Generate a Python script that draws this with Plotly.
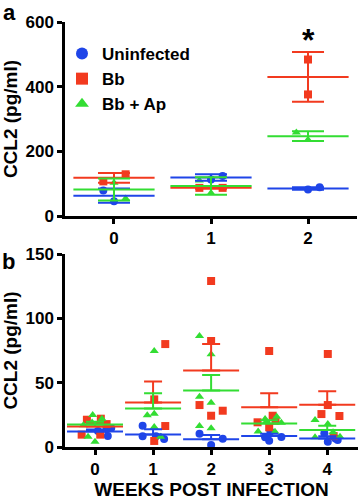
import plotly.graph_objects as go

# ---------------- DATA ----------------
groups = ["Uninfected", "Bb", "Bb + Ap"]
colors = ["#1f45e8", "#f23a1f", "#33dd33"]
symbols = ["circle", "square", "triangle-up"]

# Panel a
a_weeks = [0, 1, 2]
a_tick_labels = ["0", "1", "2"]
a_uninf = [[79, 46], [113, 124], [82, 89]]
a_bb = [[107, 129], [87, 87], [484, 376]]
a_bbap = [[103, 54], [110, 71], [258, 236]]
a_uninf_jit = [[-0.11, 0.0], [0.0, 0.12], [0.0, 0.12]]
a_bb_jit = [[-0.11, 0.12], [-0.12, 0.12], [0.0, 0.0]]
a_bbap_jit = [[0.0, 0.12], [-0.12, 0.0], [-0.12, 0.0]]
a_means = [[63, 119, 85], [118, 87, 430], [82, 93, 247]]
a_err = [[22, 10, 4], [15, 3, 77], [34, 27, 15]]
a_yticks = [0, 200, 400, 600]

# Panel b
b_weeks = [0, 1, 2, 3, 4]
b_tick_labels = ["0", "1", "2", "3", "4"]
b_uninf = [[12.4, 13.8, 14.8, 8.5], [16.6, 8.3, 8.3, 6.2], [10.3, 1.6, 6.5],
           [12, 4.9, 7.8, 7.5], [10.7, 5.4, 4.1, 6.7]]
b_uninf_jit = [[0.05, 0.2, 0.28, 0.22], [-0.18, -0.18, 0.05, 0.19], [-0.2, 0.0, 0.2],
               [0.02, 0.0, 0.21, -0.07], [-0.05, 0.18, 0.01, 0.14]]
b_bb = [[21.2, 22, 17.8, 9.6, 9.6], [80, 37, 16.3, 4.7], [129, 82.4, 32.6, 24.3, 28.2],
        [74.6, 19.2, 24.3, 20.4, 15.3], [72.3, 32.6, 25.6, 24.1, 8.5]]
b_bb_jit = [[-0.14, 0.1, 0.2, -0.23, 0.09], [0.21, 0.02, 0.21, 0.02], [0.0, 0.0, -0.2, 0.0, 0.2],
            [0.0, -0.2, 0.06, 0.11, 0.0], [0.01, 0.01, -0.1, 0.21, 0.11]]
b_bbap = [[24.9, 17, 8, 4.1, 22, 19], [74.7, 24.6, 25.9, 15.5, 8],
          [86.3, 72, 39.1, 34.4, 16.3, 14.5], [23.6, 21.8, 19.7, 18.9, 12, 11.9],
          [21, 17.9, 8, 7.5, 11.5]]
b_bbap_jit = [[-0.04, -0.2, -0.12, 0.0, 0.12, -0.05], [0.02, -0.1, 0.02, 0.02, 0.13],
              [-0.2, 0.0, -0.2, 0.0, -0.2, 0.0], [0.13, -0.07, -0.05, 0.21, -0.19, 0.1],
              [-0.21, 0.01, 0.22, -0.21, 0.1]]
b_means = [[12, 9.8, 6.1, 8.5, 6.7], [16, 34.5, 59.5, 30.8, 32.8], [17.5, 30, 44, 18.3, 13.2]]
b_err = [[1.6, 3.9, 3.3, 1.8, 1.7], [2.6, 16.5, 20.5, 11, 10.5], [2.2, 11.7, 12, 2.5, 3.4]]
b_yticks = [0, 50, 100, 150]

FONT = "Liberation Sans, Arial, sans-serif"

fig = go.Figure()


def add_points(weeks, pts, jit, gi, xa, ya, showlegend):
    xs, ys = [], []
    for w, vals, js in zip(weeks, pts, jit):
        for v, j in zip(vals, js):
            xs.append(w + j)
            ys.append(v)
    fig.add_trace(go.Scatter(
        x=xs, y=ys, mode="markers", name=groups[gi], showlegend=showlegend,
        marker=dict(symbol=symbols[gi], color=colors[gi], size=8, line=dict(width=0)),
        xaxis=xa, yaxis=ya, cliponaxis=False))


def add_mean(weeks, means, err, gi, xa, ya, linew, capw, upper_only):
    ey = dict(type="data", array=err, color=colors[gi], thickness=2, width=capw, visible=True)
    if upper_only:
        ey["symmetric"] = False
        ey["arrayminus"] = [0] * len(err)
    fig.add_trace(go.Scatter(
        x=weeks, y=means, mode="markers", showlegend=False, hoverinfo="skip",
        marker=dict(symbol="line-ew", size=linew, color=colors[gi],
                    line=dict(width=2, color=colors[gi])),
        error_y=ey, xaxis=xa, yaxis=ya, cliponaxis=False))


# panel a
a_pts = [a_uninf, a_bb, a_bbap]
a_jits = [a_uninf_jit, a_bb_jit, a_bbap_jit]
for gi in range(3):
    add_points(a_weeks, a_pts[gi], a_jits[gi], gi, "x", "y", True)
for gi in range(3):
    add_mean(a_weeks, a_means[gi], a_err[gi], gi, "x", "y", 58, 16, False)

# panel b
b_pts = [b_uninf, b_bb, b_bbap]
b_jits = [b_uninf_jit, b_bb_jit, b_bbap_jit]
for gi in range(3):
    add_points(b_weeks, b_pts[gi], b_jits[gi], gi, "x2", "y2", False)
for gi in range(3):
    add_mean(b_weeks, b_means[gi], b_err[gi], gi, "x2", "y2", 40, 9, True)

axis_common = dict(showline=True, linecolor="black", linewidth=2.5, ticks="outside",
                   ticklen=5, tickwidth=2.5, tickcolor="black", showgrid=False,
                   zeroline=False, automargin=False,
                   tickfont=dict(family=FONT, size=17, color="black", weight="bold"))

fig.update_layout(
    width=358, height=500, margin=dict(l=0, r=0, t=0, b=0, autoexpand=False),
    paper_bgcolor="white", plot_bgcolor="white",
    font=dict(family=FONT, color="black"),
    xaxis=dict(domain=[65/358, 357/358], range=[-0.505, 2.505], tickvals=a_weeks,
               ticktext=a_tick_labels, anchor="y", **axis_common),
    yaxis=dict(domain=[284/500, 478/500], range=[0, 600], tickvals=a_yticks, anchor="x",
               title=dict(text="CCL2 (pg/ml)", standoff=6,
                          font=dict(family=FONT, size=19, color="black", weight="bold")),
               **axis_common),
    xaxis2=dict(domain=[65/358, 1.0], range=[-0.517, 4.53], tickvals=b_weeks,
                ticktext=b_tick_labels, anchor="y2",
                title=dict(text="WEEKS POST INFECTION", standoff=6,
                           font=dict(family=FONT, size=19, color="black", weight="bold")),
                **axis_common),
    yaxis2=dict(domain=[53/500, 246/500], range=[0, 150], tickvals=b_yticks, anchor="x2",
                title=dict(text="CCL2 (pg/ml)", standoff=6,
                           font=dict(family=FONT, size=19, color="black", weight="bold")),
                **axis_common),
    showlegend=True,
    legend=dict(x=62/358, y=1 - 36/500, xanchor="left", yanchor="top",
                bgcolor="rgba(0,0,0,0)", borderwidth=0, traceorder="normal",
                itemsizing="constant",
                font=dict(family=FONT, size=17, color="black", weight="bold")),
    annotations=[
        dict(text="a", x=0, y=1, xref="paper", yref="paper", xanchor="left", yanchor="top",
             showarrow=False, xshift=1, yshift=2,
             font=dict(family=FONT, size=22, color="black", weight="bold")),
        dict(text="b", x=0, y=253/500, xref="paper", yref="paper", xanchor="left", yanchor="top",
             showarrow=False, xshift=0,
             font=dict(family=FONT, size=22, color="black", weight="bold")),
        dict(text="*", x=2, y=545, xref="x", yref="y", xanchor="center", yanchor="middle",
             showarrow=False,
             font=dict(family=FONT, size=32, color="black", weight="bold")),
    ],
)

fig.write_html("out.html", config={"displayModeBar": False},
               post_script="document.body.style.margin='0px';")
